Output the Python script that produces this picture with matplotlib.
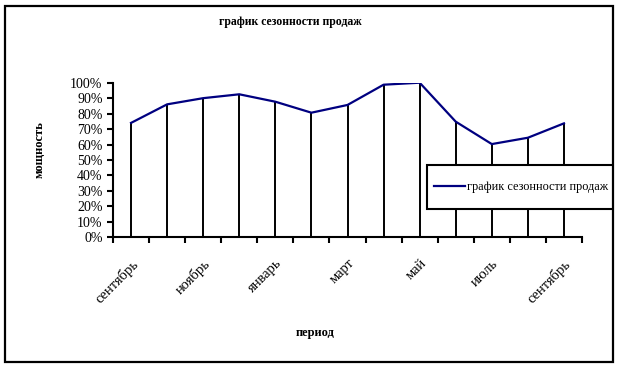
import matplotlib.pyplot as plt
from matplotlib.patches import Rectangle
from matplotlib.ticker import PercentFormatter

plt.rcParams['font.family'] = ['Liberation Serif', 'DejaVu Serif']

# data
months = ['сентябрь', 'октябрь', 'ноябрь', 'декабрь', 'январь', 'февраль',
          'март', 'апрель', 'май', 'июнь', 'июль', 'август', 'сентябрь']
seasonality = [0.74, 0.86, 0.90, 0.925, 0.877, 0.806, 0.856,
               0.987, 1.00, 0.748, 0.603, 0.644, 0.737]
series_name = 'график сезонности продаж'

W, H = 619, 368
fig = plt.figure(figsize=(W / 100, H / 100), dpi=100)
ax = fig.add_axes([113 / W, 1 - 237.3 / H, 469 / W, 154.6 / H])

x = list(range(len(months)))
ax.vlines(x, 0, seasonality, color='black', lw=1.4)
ax.plot(x, seasonality, color='#000080', lw=1.6, label=series_name)

ax.set_xlim(-0.5, len(months) - 0.5)
ax.set_ylim(0, 1)
ax.set_yticks([i / 10 for i in range(11)])
ax.yaxis.set_major_formatter(PercentFormatter(1.0, decimals=0))

# ticks between categories, labels on every other month
ax.set_xticks([i - 0.5 for i in range(len(months) + 1)])
ax.set_xticklabels([])
ax.set_xticks(x[::2], minor=True)
ax.set_xticklabels(months[::2], minor=True, rotation=45, ha='right',
                   rotation_mode='anchor', fontsize=10.5)
ax.tick_params(axis='x', which='minor', length=0, pad=14)
ax.tick_params(axis='both', which='major', length=4, width=1.5,
               direction='out', labelsize=10)

for s in ['top', 'right']:
    ax.spines[s].set_visible(False)
for s in ['left', 'bottom']:
    ax.spines[s].set_linewidth(1.5)

fig.text(315 / W, 1 - 333 / H, 'период', fontsize=9, fontweight='bold',
         ha='center', va='center')
fig.text(40 / W, 1 - 150 / H, 'мощность', rotation=90, fontsize=9,
         fontweight='bold', ha='center', va='center')
fig.text(290 / W, 1 - 22 / H, series_name, fontsize=8.5, fontweight='bold',
         ha='center', va='center')

# legend box reaches past the chart border on the right
fig.add_artist(Rectangle((427 / W, 1 - 209 / H), 190 / W, 44 / H,
                         transform=fig.transFigure, facecolor='white',
                         edgecolor='black', lw=1.5, zorder=3))
leg = ax.legend(loc='center left', bbox_to_anchor=(434 / W, 1 - 187 / H),
                bbox_transform=fig.transFigure, frameon=False,
                fontsize=8.8, handlelength=2.5, handletextpad=0.2,
                borderpad=0, borderaxespad=0)
leg.set_zorder(4)
fig.add_artist(leg)

# cover what runs past the chart border, then draw the border
fig.add_artist(Rectangle((613 / W, 0), 6 / W, 1, transform=fig.transFigure,
                         facecolor='white', edgecolor='none', zorder=5))
fig.add_artist(Rectangle((5 / W, 1 - 362 / H), 608 / W, 356 / H,
                         transform=fig.transFigure, fill=False,
                         edgecolor='black', lw=1.6, zorder=6))

fig.savefig('out.png', dpi=100)
